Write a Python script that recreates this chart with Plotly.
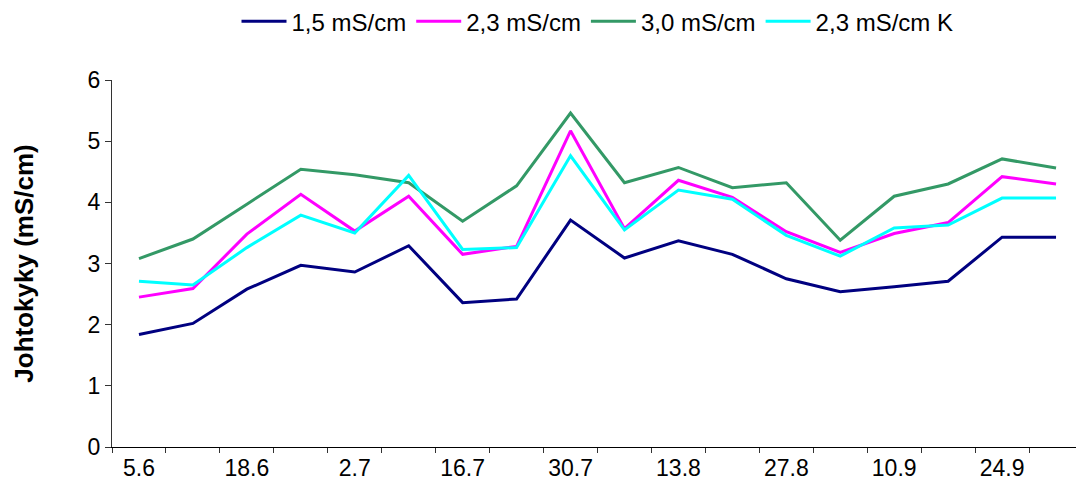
import plotly.graph_objects as go

dates = ["5.6", "12.6", "18.6", "25.6", "2.7", "9.7", "16.7", "23.7", "30.7",
         "6.8", "13.8", "20.8", "27.8", "3.9", "10.9", "17.9", "24.9", "1.10"]

s15 = [1.84, 2.02, 2.58, 2.97, 2.86, 3.29, 2.36, 2.42, 3.71,
       3.09, 3.37, 3.15, 2.75, 2.54, 2.62, 2.71, 3.43, 3.43]
s23 = [2.45, 2.59, 3.48, 4.13, 3.53, 4.10, 3.15, 3.28, 5.17,
       3.57, 4.36, 4.08, 3.52, 3.18, 3.49, 3.67, 4.42, 4.30]
s30 = [3.08, 3.40, 3.97, 4.54, 4.45, 4.32, 3.69, 4.27, 5.46,
       4.32, 4.57, 4.24, 4.32, 3.38, 4.10, 4.30, 4.71, 4.56]
s23k = [2.71, 2.65, 3.26, 3.79, 3.50, 4.44, 3.23, 3.26, 4.76,
        3.55, 4.20, 4.05, 3.46, 3.12, 3.58, 3.63, 4.07, 4.07]

series = [
    ("1,5 mS/cm", s15, "#000080"),
    ("2,3 mS/cm", s23, "#FF00FF"),
    ("3,0 mS/cm", s30, "#339966"),
    ("2,3 mS/cm K", s23k, "#00FFFF"),
]

fig = go.Figure()
for name, vals, col in series:
    fig.add_trace(go.Scatter(x=dates, y=vals, name=name, mode="lines",
                             line=dict(color=col, width=3)))

font = "Liberation Sans, Arial, sans-serif"
fig.update_layout(
    width=1076, height=487,
    margin=dict(l=104, r=1, t=72, b=48, autoexpand=False),
    paper_bgcolor="white", plot_bgcolor="white",
    font=dict(family=font, size=23, color="black"),
    showlegend=True,
    legend=dict(orientation="h", x=0.5, xanchor="center", y=1.22, yanchor="top",
                yref="paper", font=dict(size=24), itemwidth=45,
                tracegroupgap=0, itemclick=False),
    xaxis=dict(type="category", categoryorder="array", categoryarray=dates,
               range=[-0.5, 17.5], tickson="boundaries", dtick=1, ticklabelstep=2,
               ticks="outside", ticklen=5, tickcolor="#333", showline=True,
               linecolor="black", linewidth=1, showgrid=False, zeroline=False,
               tickfont=dict(size=23), automargin=False),
    yaxis=dict(range=[0, 6], dtick=1, ticks="outside", ticklen=6, tickcolor="#333",
               showline=True, linecolor="#333", linewidth=1, showgrid=False,
               zeroline=False, tickfont=dict(size=23), automargin=False,
               title=dict(text="<b>Johtokyky (mS/cm)</b>", font=dict(size=26),
                          standoff=46)),
)

fig.write_html("out.html")
